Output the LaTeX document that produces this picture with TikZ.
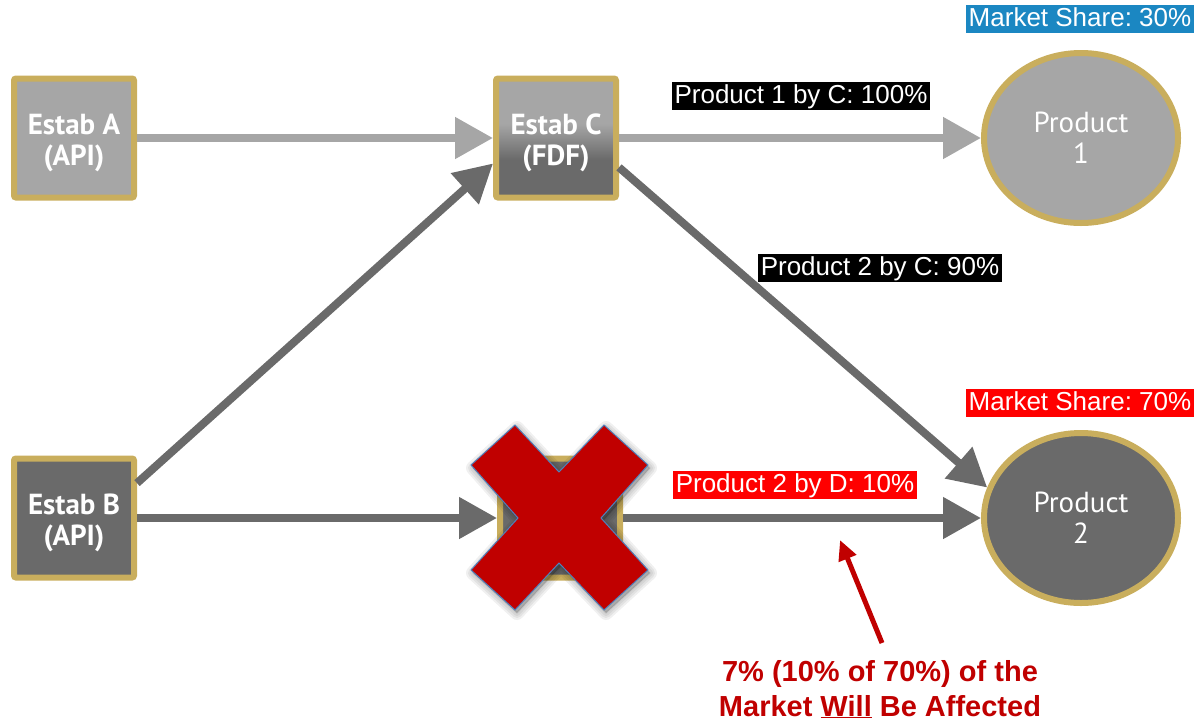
\documentclass[tikz,border=0pt]{standalone}
\usepackage{fontspec}
\setmainfont{Liberation Sans}
\newfontfamily\myr{PT Sans}
\frenchspacing
\usetikzlibrary{arrows.meta,calc,shapes.geometric}
\definecolor{ltg}{HTML}{A6A6A6}
\definecolor{dkg}{HTML}{6A6A6A}
\definecolor{gold}{HTML}{C9AE5D}
\definecolor{xred}{HTML}{C00000}
\definecolor{xblue}{HTML}{4F81BD}
\definecolor{msblue}{HTML}{1B87C2}
\definecolor{lred}{HTML}{FF0000}
\pgfdeclareverticalshading{cshade}{100bp}{color(0bp)=(dkg); color(41bp)=(dkg); color(56bp)=(ltg); color(100bp)=(ltg)}
\begin{document}
\begin{tikzpicture}[x=1pt,y=-1pt,
 estab/.style={draw=gold,line width=6pt,rounded corners=2pt,minimum width=120pt,minimum height=119pt,inner sep=0pt},
 estabtxt/.style={inner sep=0pt,text=white,align=center,font=\myr\bfseries\fontsize{29}{31}\selectfont},
 prod/.style={ellipse,draw=gold,line width=6pt,minimum width=194pt,minimum height=170pt,inner sep=0pt,text=white,align=center,font=\myr\fontsize{29}{31}\selectfont},
 lbl/.style={text=white,inner xsep=3pt,inner ysep=2pt,text height=19pt,text depth=5pt,font=\fontsize{26}{30}\selectfont},
 ltarrow/.style={draw=ltg,line width=8pt,-{Triangle[length=38pt,width=40pt]}},
 dkarrow/.style={draw=dkg,line width=8pt,-{Triangle[length=38pt,width=40pt]}},
 ptrarrow/.style={draw=xred,line width=5pt,-{Triangle[length=20pt,width=18pt]}},
 note/.style={text=xred,align=center,inner sep=0pt,font=\bfseries\fontsize{29}{35}\selectfont},
 xshape/.style={insert path={(-1,-46) -- (44,-93) -- (88,-53) -- (41,0) -- (88,52) -- (44,92) -- (-1,45) -- (-45,92) -- (-89,52) -- (-42,0) -- (-89,-53) -- (-45,-93) -- cycle}},
 xshadow/.style={draw=black,line join=round,draw opacity=0.06,line width=#1}
]
\useasboundingbox (0,0) rectangle (1198,721);

% establishments
\node[estab,fill=ltg] (A) at (74,138) {};
\node[estab,shade,shading=cshade] (C) at (556,138) {};
\node[estab,fill=dkg] (B) at (74,518) {};
\node[estab,fill=dkg] (D) at (560,518) {};
\node[estabtxt] (At) at ([yshift=-5pt]A.center) {Estab A\\(API)};
\node[estabtxt] (Ct) at ([yshift=-5pt]C.center) {Estab C\\(FDF)};
\node[estabtxt] (Bt) at ([yshift=-5pt]B.center) {Estab B\\(API)};

% products
\node[prod,fill=ltg] (P1) at (1081,138) {Product\\1};
\node[prod,fill=dkg] (P2) at (1081,518) {Product\\2};

% connectors
\draw[ltarrow] (A.east) -- (C.west);
\draw[ltarrow] (C.east) -- (P1.west);
\draw[dkarrow] (B.29) -- (C.202);
\draw[dkarrow] (C.335) -- (P2.162);
\draw[dkarrow] (B.east) -- (D.west);
\draw[dkarrow] (D.east) -- (P2.west);

% red cross over D
\begin{scope}[shift={(D.center)}]
\begin{scope}[shift={(2,3)}]
\path[xshape,xshadow=14pt];
\path[xshape,xshadow=10pt];
\path[xshape,xshadow=6pt];
\path[xshape,xshadow=2pt,fill=black,fill opacity=0.2];
\end{scope}
\path[xshape,fill=xred,draw=xblue,line width=1pt];
\end{scope}

% labels
\node[lbl,fill=msblue] (ms1) at (1080,19) {Market Share: 30\%};
\node[lbl,fill=lred] (ms2) at (1080,403) {Market Share: 70\%};
\node[lbl,fill=black] (l1) at (801,96) {Product 1 by C: 100\%};
\node[lbl,fill=black] (l2) at (880,268) {Product 2 by C: 90\%};
\node[lbl,fill=lred] (l3) at (795,485) {Product 2 by D: 10\%};

% note
\node[note] (nt) at (880,689) {7\% (10\% of 70\%) of the\\Market \underline{Will} Be Affected};
\coordinate (ptrstart) at (882,643);
\coordinate (ptrend) at (840,540);
\draw[ptrarrow] (ptrstart) -- (ptrend);
\end{tikzpicture}
\end{document}
